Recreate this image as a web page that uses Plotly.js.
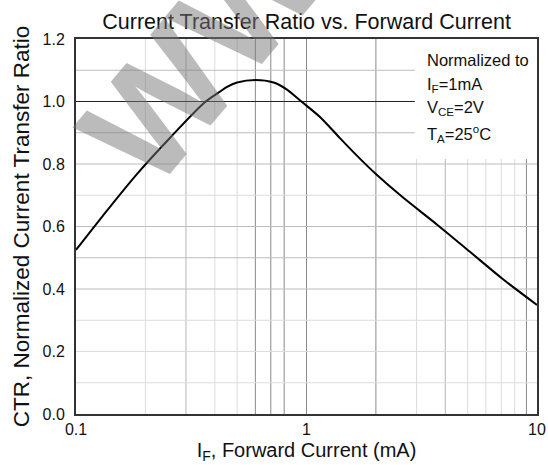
<!DOCTYPE html>
<html>
<head>
<meta charset="utf-8">
<script src="https://cdn.plot.ly/plotly-3.0.1.min.js"></script>
<style>
  html, body { margin: 0; padding: 0; background: #fff; }
  #chart { width: 548px; height: 465px; }
</style>
</head>
<body>
<div id="chart"></div>
<script>
// Forward current (mA)
const forwardCurrent = [0.1, 0.131, 0.183, 0.256, 0.36, 0.42, 0.45, 0.5, 0.6, 0.72, 0.82, 0.95, 1.15, 1.4, 1.7, 2.0, 2.6, 3.7, 5.1, 7.1, 10];
// Normalized CTR
const normalizedCTR = [0.525, 0.635, 0.766, 0.884, 0.996, 1.031, 1.046, 1.061, 1.069, 1.061, 1.039, 1.0, 0.949, 0.882, 0.818, 0.768, 0.695, 0.605, 0.520, 0.432, 0.349];

const xTickVals = [0.1, 1, 10];
const xTickText = ['0.1', '1', '10'];
const yTickVals = [0, 0.2, 0.4, 0.6, 0.8, 1.0, 1.2];
const yTickText = ['0.0', '0.2', '0.4', '0.6', '0.8', '1.0', '1.2'];

// gridline positions, grouped by shade
const xGridLight = [0.2, 0.4, 0.5, 3, 5, 6, 7, 8];
const xGridMedium = [0.3, 4];
const xGridDark = [0.6, 0.7, 0.8, 1, 2, 9];
const yGridLight = [0.1, 0.2, 0.3, 0.7];
const yGridMedium = [0.4, 0.5, 0.6, 0.8, 0.9, 1.1];
const yGridDark = [1.0];

const noteLines = ['Normalized to', 'I<sub>F</sub>=1mA', 'V<sub>CE</sub>=2V', 'T<sub>A</sub>=25<sup>o</sup>C'];
const watermarkText = 'WWW';

const FONT = 'Liberation Sans, Arial, sans-serif';

const shapes = [];
function vline(v, color, w) {
  shapes.push({type: 'line', layer: 'below', xref: 'x', yref: 'paper', x0: v, x1: v, y0: 0, y1: 1,
    line: {color: color, width: w}});
}
function hline(v, color, w) {
  shapes.push({type: 'line', layer: 'below', xref: 'paper', yref: 'y', x0: 0, x1: 1, y0: v, y1: v,
    line: {color: color, width: w}});
}
xGridLight.forEach(v => vline(v, '#dcdcdc', 1));
xGridMedium.forEach(v => vline(v, '#b4b4b4', 1));
xGridDark.forEach(v => vline(v, '#8a8a8a', 1));
yGridLight.forEach(v => hline(v, '#dcdcdc', 1));
yGridMedium.forEach(v => hline(v, '#bdbdbd', 1));
yGridDark.forEach(v => hline(v, '#222222', 1));
// white box behind the note
shapes.push({type: 'rect', layer: 'below', xref: 'paper', yref: 'paper', x0: 0.735, x1: 1, y0: 0.68, y1: 1,
  fillcolor: '#ffffff', line: {width: 0}});

const noteY = [60, 85, 108, 134];
const annotations = noteLines.map((t, i) => ({
  text: t, xref: 'paper', yref: 'paper', x: (425 - 76) / 461, y: (414 - noteY[i]) / 375,
  xanchor: 'left', yanchor: 'middle', showarrow: false, align: 'left',
  font: {family: FONT, size: 16.5, color: '#111'}
}));
// watermark
annotations.push({
  text: '<b>' + watermarkText + '</b>', xref: 'paper', yref: 'paper', x: (250 - 76) / 461, y: (414 + 4) / 375,
  xanchor: 'center', yanchor: 'middle', showarrow: false, textangle: -50,
  font: {family: FONT, size: 152, color: 'rgba(120,120,120,0.5)'}
});

const trace = {
  x: forwardCurrent, y: normalizedCTR, type: 'scatter', mode: 'lines',
  line: {color: '#000', width: 2, shape: 'spline', smoothing: 0.8},
  hoverinfo: 'skip'
};

const layout = {
  width: 548, height: 465,
  margin: {l: 76, r: 11, t: 39, b: 51},
  paper_bgcolor: '#fff', plot_bgcolor: '#fff',
  showlegend: false,
  font: {family: FONT, color: '#111'},
  title: {text: 'Current Transfer Ratio vs. Forward Current', font: {family: FONT, size: 21.5, color: '#111'},
    x: 0.5595, xanchor: 'center', y: 1 - 21 / 465, yanchor: 'middle', yref: 'container'},
  xaxis: {
    type: 'log', range: [-1, 1], tickvals: xTickVals, ticktext: xTickText,
    showgrid: false, zeroline: false, ticks: '', ticklabelstandoff: 0,
    showline: true, mirror: true, linecolor: '#333', linewidth: 2,
    tickfont: {family: FONT, size: 16, color: '#111'},
    title: {text: 'I<sub>F</sub>, Forward Current (mA)', font: {family: FONT, size: 20, color: '#111'}, standoff: 6}
  },
  yaxis: {
    range: [0, 1.2], tickvals: yTickVals, ticktext: yTickText,
    showgrid: false, zeroline: false, ticks: '', ticklabelstandoff: 6,
    showline: true, mirror: true, linecolor: '#333', linewidth: 2,
    tickfont: {family: FONT, size: 16, color: '#111'},
    title: {text: 'CTR, Normalized Current Transfer Ratio', font: {family: FONT, size: 22.5, color: '#111'}, standoff: 7}
  },
  shapes: shapes,
  annotations: annotations
};

Plotly.newPlot('chart', [trace], layout, {staticPlot: true, displayModeBar: false});
</script>
</body>
</html>
